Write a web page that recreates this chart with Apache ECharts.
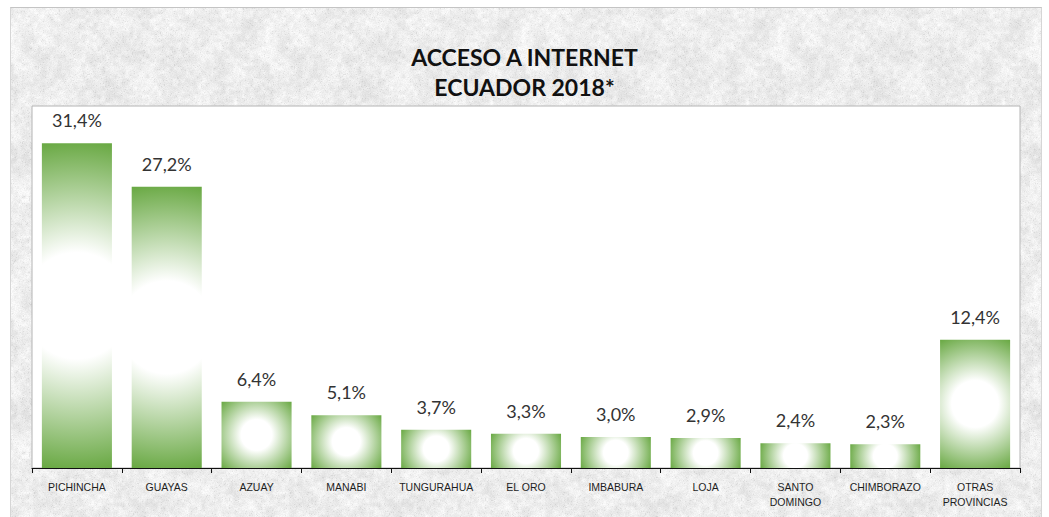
<!DOCTYPE html>
<html>
<head>
<meta charset="utf-8">
<script src="https://cdn.jsdelivr.net/npm/echarts@6/dist/echarts.min.js"></script>
<style>
  html, body { margin: 0; padding: 0; background: #ffffff; }
  #wrap { position: relative; width: 1049px; height: 517px; overflow: hidden; }
  #bg { position: absolute; left: 10px; top: 7px; width: 1030px; height: 512px;
        border-top: 1px solid #c4c4c4; border-left: 1px solid #d6d6d6; border-right: 1px solid #d6d6d6; }
  #chart { position: absolute; left: 0; top: 0; width: 1049px; height: 517px; }
</style>
</head>
<body>
<div id="wrap">
  <div id="bg"></div>
  <div id="chart"></div>
</div>
<script>
// Provincias y porcentaje de acceso a internet
const provincias = ['PICHINCHA', 'GUAYAS', 'AZUAY', 'MANABI', 'TUNGURAHUA', 'EL ORO',
                    'IMBABURA', 'LOJA', 'SANTO\nDOMINGO', 'CHIMBORAZO', 'OTRAS\nPROVINCIAS'];
const acceso = [31.4, 27.2, 6.4, 5.1, 3.7, 3.3, 3.0, 2.9, 2.4, 2.3, 12.4];

const titulo = 'ACCESO A INTERNET\nECUADOR 2018*';
const verde = '#68a842';

// Granite-like paper texture for the chart area (deterministic hash noise)
(function buildTexture() {
  const W = 256, H = 256;
  const c = document.createElement('canvas');
  c.width = W; c.height = H;
  const ctx = c.getContext('2d');
  const img = ctx.createImageData(W, H);
  function hash(x, y, s) {
    let h = (x * 374761393 + y * 668265263 + s * 982451653) | 0;
    h = (h ^ (h >>> 13)) * 1274126177 | 0;
    h = h ^ (h >>> 16);
    return ((h >>> 0) % 10000) / 10000;
  }
  function smooth(x, y, cell, s) {
    const gx = Math.floor(x / cell), gy = Math.floor(y / cell);
    const fx = (x % cell) / cell, fy = (y % cell) / cell;
    const n = W / cell;
    const a = hash(gx % n, gy % n, s), b = hash((gx + 1) % n, gy % n, s);
    const d = hash(gx % n, (gy + 1) % n, s), e = hash((gx + 1) % n, (gy + 1) % n, s);
    const u = fx * fx * (3 - 2 * fx), v = fy * fy * (3 - 2 * fy);
    return (a * (1 - u) + b * u) * (1 - v) + (d * (1 - u) + e * u) * v;
  }
  for (let y = 0; y < H; y++) {
    for (let x = 0; x < W; x++) {
      const n1 = smooth(x, y, 16, 1);
      const n2 = smooth(x, y, 4, 2);
      const n3 = hash(x, y, 3);
      let v = 237 + (n1 - 0.5) * 14 + (n2 - 0.5) * 16 + (n3 - 0.5) * 12;
      if (n3 > 0.97) v -= 22;
      v = Math.max(190, Math.min(252, v));
      const i = (y * W + x) * 4;
      img.data[i] = v; img.data[i + 1] = v; img.data[i + 2] = v; img.data[i + 3] = 255;
    }
  }
  ctx.putImageData(img, 0, 0);
  document.getElementById('bg').style.background = 'url(' + c.toDataURL() + ') repeat';
})();

const chart = echarts.init(document.getElementById('chart'), null, { renderer: 'svg' });

function etiqueta(v) {
  return v.toFixed(1).replace('.', ',') + '%';
}

chart.setOption({
  backgroundColor: 'transparent',
  animation: false,
  title: {
    text: titulo,
    left: 'center',
    top: 37,
    textStyle: {
      fontFamily: 'Lato',
      fontWeight: 'bold',
      fontSize: 23,
      lineHeight: 30,
      color: '#111111'
    }
  },
  grid: {
    left: 32, right: 29, top: 106, bottom: 49,
    show: true,
    backgroundColor: '#ffffff',
    borderColor: '#b4b4b4',
    borderWidth: 1
  },
  xAxis: {
    type: 'category',
    data: provincias,
    axisLine: { show: true, lineStyle: { color: '#111', width: 1.2 } },
    axisTick: { show: true, length: 5, lineStyle: { color: '#111' } },
    axisLabel: {
      interval: 0,
      margin: 11,
      fontFamily: 'Liberation Sans',
      fontSize: 10.5,
      lineHeight: 15,
      color: '#1e1e1e'
    }
  },
  yAxis: {
    type: 'value',
    min: 0,
    max: 35,
    show: false,
    splitLine: { show: false }
  },
  series: [{
    type: 'custom',
    data: acceso.map((v, i) => [i, v]),
    renderItem: function (params, api) {
      const idx = api.value(0);
      const val = api.value(1);
      const top = api.coord([idx, val]);
      const base = api.coord([idx, 0]);
      const band = api.size([1, 0])[0];
      const w = band * 0.78;
      const h = base[1] - top[1];
      const cx = top[0];
      const cy = top[1] + h / 2;
      const r = Math.hypot(w / 2, h / 2);
      return {
        type: 'group',
        children: [{
          type: 'rect',
          shape: { x: cx - w / 2, y: top[1], width: w, height: h },
          style: {
            fill: {
              type: 'radial', x: cx, y: cy, r: r, global: true,
              colorStops: [
                { offset: 0, color: '#ffffff' },
                { offset: 0.32, color: '#ffffff' },
                { offset: 1, color: verde }
              ]
            }
          }
        }, {
          type: 'text',
          style: {
            text: etiqueta(val),
            x: cx,
            y: top[1] - 23,
            align: 'center',
            verticalAlign: 'middle',
            fontFamily: 'Lato',
            fontSize: 18,
            fill: '#333333'
          }
        }]
      };
    }
  }]
});
</script>
</body>
</html>
